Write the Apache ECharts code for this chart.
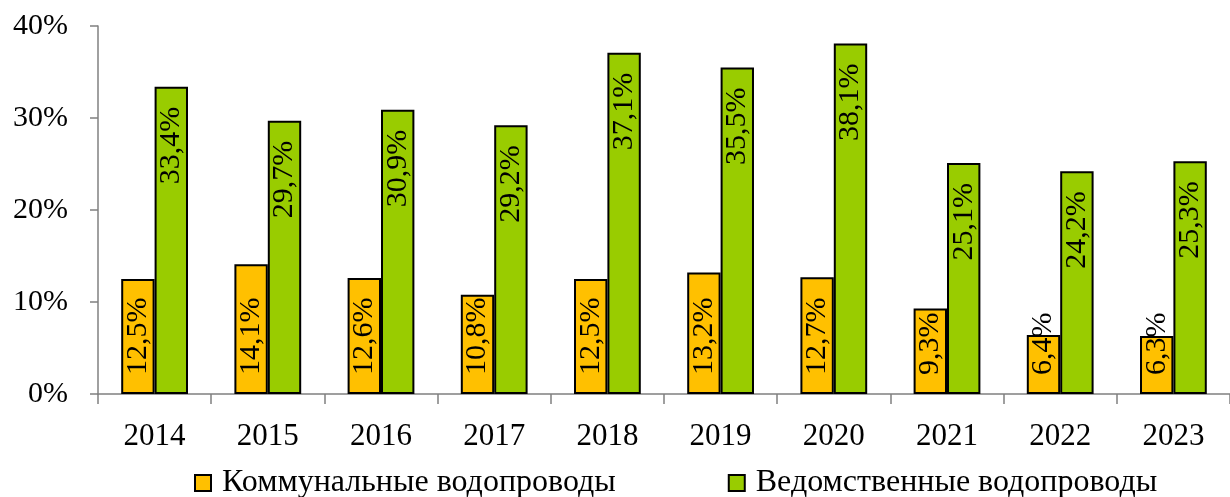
<!DOCTYPE html>
<html><head><meta charset="utf-8">
<script src="https://cdn.jsdelivr.net/npm/echarts@6/dist/echarts.min.js"></script>
<style>html,body{margin:0;padding:0;background:#fff}#c{width:1230px;height:497px}</style>
</head><body><div id="c"></div>
<script>
var categories = ['2014','2015','2016','2017','2018','2019','2020','2021','2022','2023'];
var communal = [12.5, 14.1, 12.6, 10.8, 12.5, 13.2, 12.7, 9.3, 6.4, 6.3];
var departmental = [33.4, 29.7, 30.9, 29.2, 37.1, 35.5, 38.1, 25.1, 24.2, 25.3];
var seriesNames = ['Коммунальные водопроводы', 'Ведомственные водопроводы'];

var FONT = '"Liberation Serif", "Times New Roman", serif';
function fmt(p){ return p.value.toFixed(1).replace('.', ',') + '%'; }
var chart = echarts.init(document.getElementById('c'));
chart.setOption({
  animation: false,
  backgroundColor: '#fff',
  textStyle: { fontFamily: FONT },
  grid: { left: 98, top: 26, width: 1137, bottom: 103, containLabel: false },
  legend: {
    bottom: -2, left: 194, padding: 0, itemWidth: 16, itemHeight: 16, itemGap: 112, icon: 'rect',
    textStyle: { fontFamily: FONT, fontSize: 32, color: '#000', padding: [0,0,0,6] },
    data: seriesNames
  },
  xAxis: {
    type: 'category', data: categories,
    axisLine: { lineStyle: { color: '#808080', width: 1.5 } },
    axisTick: { show: true, length: 10, alignWithLabel: false, lineStyle: { color: '#808080', width: 1.5 } },
    axisLabel: { fontFamily: FONT, fontSize: 31, color: '#000', margin: 27 }
  },
  yAxis: {
    type: 'value', min: 0, max: 40, interval: 10,
    axisLine: { show: true, lineStyle: { color: '#808080', width: 1.5 } },
    axisTick: { show: true, length: 8, lineStyle: { color: '#808080', width: 1.5 } },
    splitLine: { show: false },
    axisLabel: { fontFamily: FONT, fontSize: 30, color: '#000', margin: 30, formatter: '{value}%' }
  },
  series: [
    {
      name: seriesNames[0], type: 'bar', data: communal,
      barGap: '0%', barCategoryGap: '41%',
      itemStyle: { color: '#FFC000', borderColor: '#000', borderWidth: 2 },
      label: { show: true, position: 'insideBottom', rotate: 90, align: 'left', verticalAlign: 'middle',
        distance: 19, fontFamily: FONT, fontSize: 30, color: '#000', formatter: fmt }
    },
    {
      name: seriesNames[1], type: 'bar', data: departmental,
      barGap: '0%', barCategoryGap: '41%',
      itemStyle: { color: '#99CC00', borderColor: '#000', borderWidth: 2 },
      label: { show: true, position: 'insideTop', rotate: 90, align: 'right', verticalAlign: 'middle',
        distance: 20, fontFamily: FONT, fontSize: 30, color: '#000', formatter: fmt }
    }
  ]
});
</script></body></html>
